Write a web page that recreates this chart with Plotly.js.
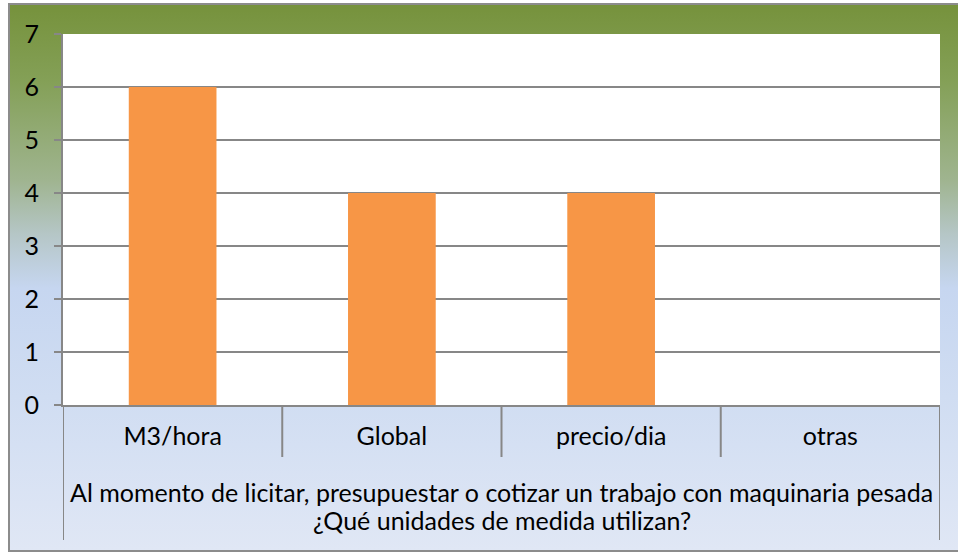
<!DOCTYPE html>
<html>
<head>
<meta charset="utf-8">
<script src="https://cdn.plot.ly/plotly-3.0.1.min.js"></script>
<style>
  html, body { margin: 0; padding: 0; background: #ffffff; }
  #wrap { position: relative; width: 958px; height: 552px; overflow: hidden; }
  #bg {
    position: absolute; left: 8px; top: 3px; width: 960px; height: 545px;
    border-left: 2px solid #8c8c8c; border-top: 2px solid #8c8c8c; border-bottom: 2px solid #8c8c8c;
    background: linear-gradient(to bottom, #76923c 0%, #84a057 14%, #9fb48f 32%, #b5c6c6 42%, #c6d6f0 52%, #d0ddf2 72%, #e0e7f5 100%);
  }
  #chart { position: absolute; left: 0; top: 0; width: 958px; height: 552px; }
</style>
</head>
<body>
<div id="wrap">
  <div id="bg"></div>
  <div id="chart"></div>
</div>
<script>
const categories = ['M3/hora', 'Global', 'precio/dia', 'otras'];
const values = [6, 4, 4, 0];
const yTicks = [0, 1, 2, 3, 4, 5, 6, 7];
const groupTitleLines = [
  'Al momento de licitar, presupuestar o cotizar un trabajo con maquinaria pesada',
  '¿Qué unidades de medida utilizan?'
];

const FONT = 'Lato, "Open Sans", sans-serif';
const FS = 25;
const axisGray = '#878787';

const plotTop = 34, plotBottom = 405, plotH = plotBottom - plotTop;

const shapes = [];
for (let i = 0; i <= categories.length; i++) {
  const outer = (i === 0 || i === categories.length);
  shapes.push({
    type: 'line', xref: 'x', yref: 'paper',
    x0: i - 0.5, x1: i - 0.5, y0: 0, y1: outer ? -(540 - plotBottom) / plotH : -(457 - plotBottom) / plotH,
    line: { color: axisGray, width: 2 }
  });
}

const titleCenters = [492, 520];
const annotations = groupTitleLines.map((t, i) => ({
  text: t, showarrow: false,
  xref: 'paper', yref: 'paper', x: 0.5, y: -(titleCenters[i] - plotBottom) / plotH,
  xanchor: 'center', yanchor: 'middle',
  font: { family: FONT, size: FS, color: '#000' }
}));

const trace = {
  type: 'bar',
  x: categories,
  y: values,
  marker: { color: '#f79646' },
  hoverinfo: 'x+y'
};

const layout = {
  width: 958, height: 552,
  margin: { l: 63, r: 18, t: 34, b: 147 },
  paper_bgcolor: 'rgba(0,0,0,0)',
  plot_bgcolor: '#ffffff',
  bargap: 0.6,
  showlegend: false,
  font: { family: FONT, color: '#000000', size: FS },
  xaxis: {
    type: 'category',
    range: [-0.5, categories.length - 0.5],
    showgrid: false, zeroline: false,
    showline: true, linecolor: axisGray, linewidth: 2,
    ticks: '',
    ticklabelstandoff: 8,
    tickfont: { family: FONT, size: FS, color: '#000' },
    automargin: false
  },
  yaxis: {
    range: [0, 7],
    tickvals: yTicks,
    ticktext: yTicks.map(String),
    showgrid: true, gridcolor: axisGray, gridwidth: 2,
    zeroline: false,
    showline: true, linecolor: axisGray, linewidth: 2,
    ticks: 'outside', ticklen: 7, tickcolor: axisGray, tickwidth: 2,
    ticklabelstandoff: 10,
    tickfont: { family: FONT, size: FS, color: '#000' },
    automargin: false
  },
  shapes: shapes,
  annotations: annotations
};

Plotly.newPlot('chart', [trace], layout, { displayModeBar: false, staticPlot: true });
</script>
</body>
</html>
